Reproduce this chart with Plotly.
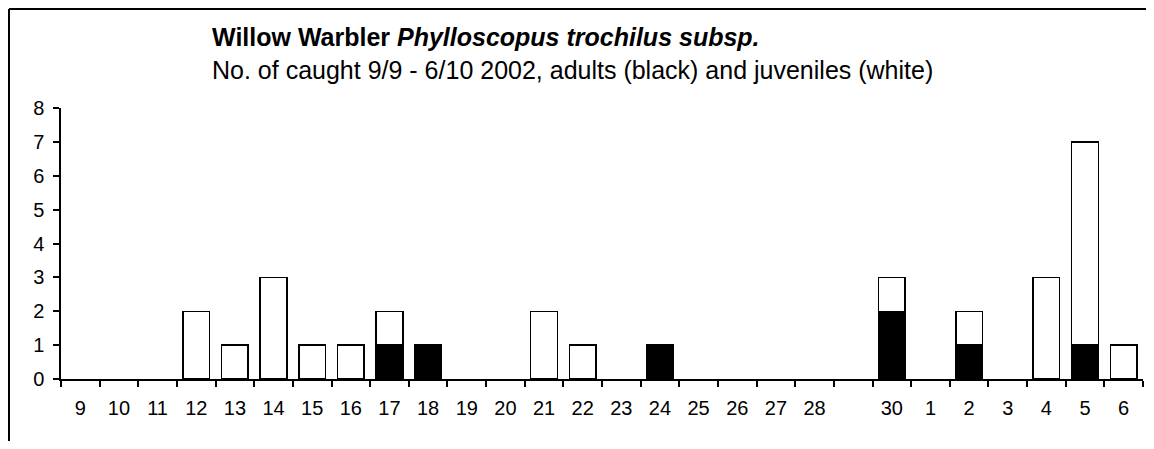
import plotly.graph_objects as go

days = ["9", "10", "11", "12", "13", "14", "15", "16", "17", "18", "19", "20",
        "21", "22", "23", "24", "25", "26", "27", "28", " ", "30",
        "1", "2", "3", "4", "5", "6"]
adults = [0, 0, 0, 0, 0, 0, 0, 0, 1, 1, 0, 0,
          0, 0, 0, 1, 0, 0, 0, 0, 0, 2,
          0, 1, 0, 0, 1, 0]
juveniles = [0, 0, 0, 2, 1, 3, 1, 1, 1, 0, 0, 0,
             2, 1, 0, 0, 0, 0, 0, 0, 0, 1,
             0, 1, 0, 3, 6, 1]

FONT = "Liberation Sans, Arial, sans-serif"
OFF = 8  # page body margin
W, H = 1154 - 2 * OFF, 449 - 2 * OFF
L, T = 61 - OFF, 108 - OFF
R = W - (1143 - OFF)
B = H - (379 - OFF)
PW, PH = W - L - R, H - T - B


def px_x(page_x):
    return (page_x - OFF - L) / PW


def px_y(page_y):
    return (H - B - (page_y - OFF)) / PH


fig = go.Figure()
fig.add_trace(go.Bar(x=days, y=[v if v else None for v in adults], name="adults",
                     marker=dict(color="black", line=dict(color="black", width=1.5))))
fig.add_trace(go.Bar(x=days, y=[v if v else None for v in juveniles], name="juveniles",
                     marker=dict(color="white", line=dict(color="black", width=1.5))))

bx0 = (1 - L) / PW
by1 = (H - B - 1) / PH

fig.update_layout(
    width=W, height=H,
    margin=dict(l=L, r=R, t=T, b=B),
    barmode="stack", bargap=0.31,
    showlegend=False,
    plot_bgcolor="white", paper_bgcolor="white",
    font=dict(family=FONT, size=20, color="black"),
    xaxis=dict(type="category", tickson="boundaries", ticks="outside", ticklen=6,
               tickcolor="black", tickwidth=1.5, showline=True, linecolor="black",
               linewidth=1.5, showgrid=False, tickfont=dict(size=20), ticklabelstandoff=10),
    yaxis=dict(range=[0, 8], dtick=1, ticks="outside", ticklen=6, tickcolor="black",
               tickwidth=1.5, showline=True, linecolor="black", linewidth=1.5,
               showgrid=False, zeroline=False, tickfont=dict(size=20), ticklabelstandoff=5),
    shapes=[
        dict(type="line", xref="paper", yref="paper", x0=bx0, x1=2.0, y0=by1, y1=by1,
             line=dict(color="black", width=2)),
        dict(type="line", xref="paper", yref="paper", x0=bx0, x1=bx0, y0=-1, y1=by1,
             line=dict(color="black", width=2)),
    ],
    annotations=[
        dict(xref="paper", yref="paper", x=px_x(210), y=px_y(37),
             xanchor="left", yanchor="middle", showarrow=False,
             text="<b>Willow Warbler <i>Phylloscopus trochilus subsp.</i></b>",
             font=dict(size=25, family=FONT)),
        dict(xref="paper", yref="paper", x=px_x(210), y=px_y(70),
             xanchor="left", yanchor="middle", showarrow=False,
             text="No. of caught 9/9 - 6/10 2002, adults (black) and juveniles (white)",
             font=dict(size=25, family=FONT)),
    ],
)

fig.write_html("out.html")
